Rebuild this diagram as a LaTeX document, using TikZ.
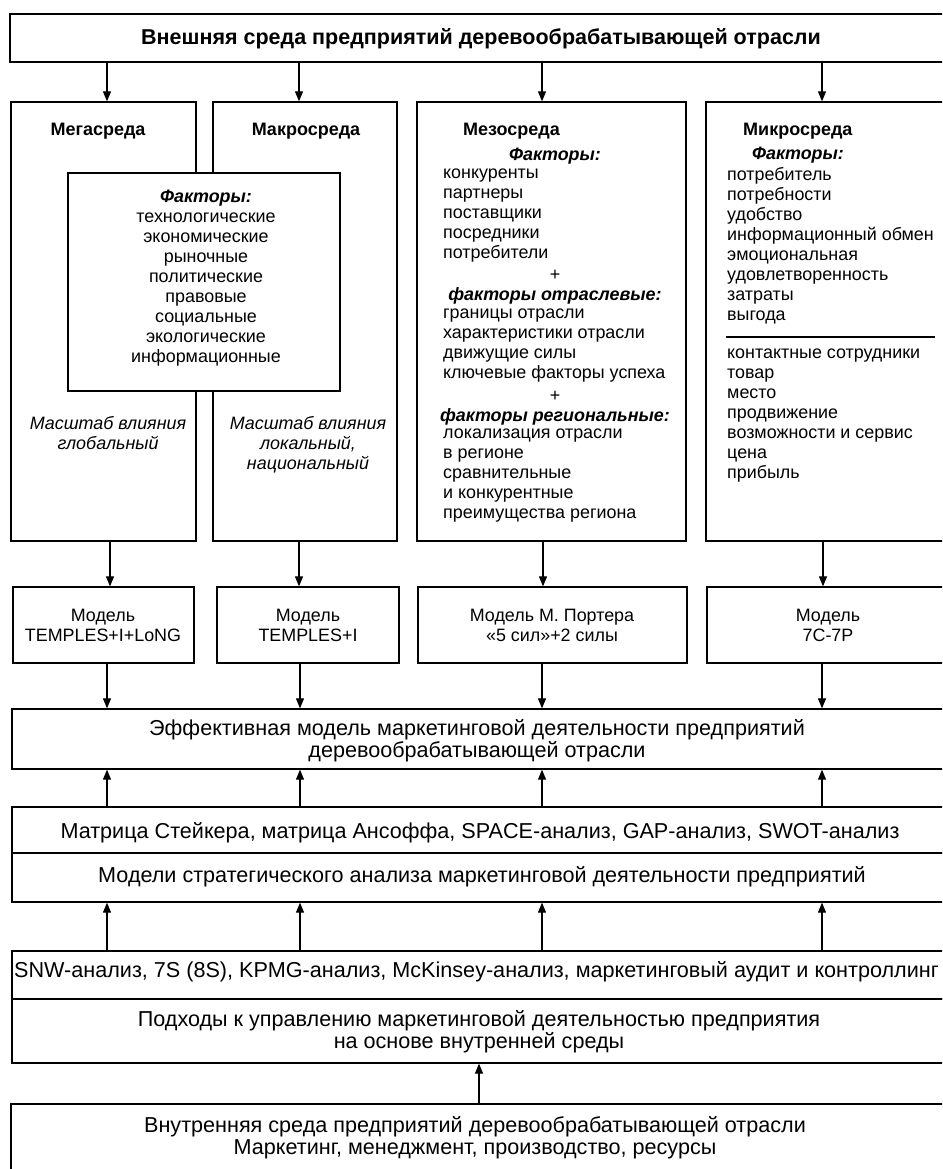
\documentclass[tikz,border=0pt]{standalone}
\usepackage{fontspec}
\setmainfont{Liberation Sans}
\usetikzlibrary{arrows.meta}
\newcommand\colf{\fontsize{17.9}{20}\selectfont}
\newcommand\botf{\fontsize{21.6}{22}\selectfont}
\newcommand\headf{\fontsize{18}{20}\selectfont\bfseries}
\newcommand\titf{\fontsize{21.5}{22}\selectfont\bfseries}
\newcommand\fhead[1]{\textbf{\textit{#1}}}
\begin{document}
\begin{tikzpicture}[x=1pt,y=-1pt,
  box/.style={draw, line width=1.3pt, inner sep=0pt, fill=white, rectangle},
  arr/.style={line width=1.1pt, -{Triangle[length=10pt,width=8pt]}},
  ct/.style={inner sep=0pt, align=center, execute at begin node=\strut, execute at end node=\strut},
  lt/.style={inner sep=0pt, align=left, anchor=west, execute at begin node=\strut, execute at end node=\strut},
]
\useasboundingbox (0,0) rectangle (942,1169);
\fill[white] (0,0) rectangle (942,1169);
\clip (0,0) rectangle (942,1169);

% ---------- boxes ----------
\node[box, minimum width=942, minimum height=48] (title) at (481,38) {};
\node[box, minimum width=185, minimum height=439] (mega) at (103.5,321.5) {};
\node[box, minimum width=184, minimum height=439] (macro) at (305,321.5) {};
\node[box, minimum width=269, minimum height=439] (meso) at (551.5,321.5) {};
\node[box, minimum width=246, minimum height=439] (micro) at (829,321.5) {};
\node[box, minimum width=272, minimum height=218] (inner) at (204,282) {};

\node[box, minimum width=181, minimum height=76] (m1) at (103.5,625) {};
\node[box, minimum width=182, minimum height=76] (m2) at (308,625) {};
\node[box, minimum width=269, minimum height=76] (m3) at (552.5,625) {};
\node[box, minimum width=245, minimum height=76] (m4) at (829.5,625) {};

\node[box, minimum width=940, minimum height=60] (eff) at (482,739) {};
\node[box, minimum width=940, minimum height=46] (matr) at (482,830) {};
\node[box, minimum width=940, minimum height=49] (mods) at (482,877.5) {};
\node[box, minimum width=940, minimum height=48] (snw) at (482,975) {};
\node[box, minimum width=940, minimum height=64] (podh) at (482,1031) {};
\node[box, minimum width=941, minimum height=86] (inside) at (481.5,1147) {};

% ---------- texts ----------
\node[font=\titf, inner sep=0pt] (titleT) at (481,39) {Внешняя среда предприятий деревообрабатывающей отрасли};

\node[font=\headf, inner sep=0pt] (megaH) at (98,131) {Мегасреда};
\node[font=\headf, inner sep=0pt] (macroH) at (306,131) {Макросреда};
\node[font=\headf, inner sep=0pt, anchor=west] (mesoH) at (463,131) {Мезосреда};
\node[font=\headf, inner sep=0pt, anchor=west] (microH) at (743,131) {Микросреда};

\node[ct, font=\colf] (innerT) at (206,279) {\fhead{Факторы:}\\технологические\\экономические\\рыночные\\политические\\правовые\\социальные\\экологические\\информационные};

\node[ct, font=\colf\itshape] (megaS) at (108,436) {Масштаб влияния\\глобальный};
\node[ct, font=\colf\itshape] (macroS) at (308,446) {Масштаб влияния\\локальный,\\национальный};

\node[ct, font=\colf] (mesoF) at (555,157) {\fhead{Факторы:}};
\node[lt, font=\colf] (mesoA) at (443,217) {конкуренты\\партнеры\\поставщики\\посредники\\потребители};
\node[ct, font=\colf] (plus1) at (555,276) {+};
\node[ct, font=\colf] (mesoH2) at (555,296) {\fhead{факторы отраслевые:}};
\node[lt, font=\colf] (mesoB) at (443,347) {границы отрасли\\характеристики отрасли\\движущие силы\\ключевые факторы успеха};
\node[ct, font=\colf] (plus2) at (555,397) {+};
\node[ct, font=\colf] (mesoH3) at (555,417) {\fhead{факторы региональные:}};
\node[lt, font=\colf] (mesoC) at (443,477) {локализация отрасли\\в регионе\\сравнительные\\и конкурентные\\преимущества региона};

\node[ct, font=\colf] (microF) at (798,156) {\fhead{Факторы:}};
\node[lt, font=\colf] (microA) at (727,247) {потребитель\\потребности\\удобство\\информационный обмен\\эмоциональная\\удовлетворенность\\затраты\\выгода};
\coordinate (ruleL) at (726,337);
\coordinate (ruleR) at (935,337);
\draw[line width=1.1pt] (ruleL) -- (ruleR);
\node[lt, font=\colf] (microB) at (727,417) {контактные сотрудники\\товар\\место\\продвижение\\возможности и сервис\\цена\\прибыль};

\node[ct, font=\colf] (m1T) at (103,628) {Модель\\TEMPLES+I+LoNG};
\node[ct, font=\colf] (m2T) at (308,628) {Модель\\TEMPLES+I};
\node[ct, font=\colf] (m3T) at (552,628) {Модель М. Портера\\«5 сил»+2 силы};
\node[ct, font=\colf] (m4T) at (828,628) {Модель\\7C-7P};

\node[ct, font=\botf] (effT) at (477,742) {Эффективная модель маркетинговой деятельности предприятий\\деревообрабатывающей отрасли};
\node[ct, font=\botf] (matrT) at (480,834) {Матрица Стейкера, матрица Ансоффа, SPACE-анализ, GAP-анализ, SWOT-анализ};
\node[ct, font=\botf] (modsT) at (482,878) {Модели стратегического анализа маркетинговой деятельности предприятий};
\node[lt, font=\botf] (snwT) at (14,973) {SNW-анализ, 7S (8S), KPMG-анализ, McKinsey-анализ, маркетинговый аудит и контроллинг};
\node[ct, font=\botf] (podhT) at (479,1033) {Подходы к управлению маркетинговой деятельностью предприятия\\на основе внутренней среды};
\node[ct, font=\botf] (insideT) at (475,1139) {Внутренняя среда предприятий деревообрабатывающей отрасли\\Маркетинг, менеджмент, производство, ресурсы};

% ---------- connectors ----------
\coordinate (a1) at (107,0);
\coordinate (a2) at (299,0);
\coordinate (a3) at (542,0);
\coordinate (a4) at (822,0);
\coordinate (c1) at (110,0);
\coordinate (c2) at (299,0);
\coordinate (c3) at (543,0);
\coordinate (c4) at (823,0);
\coordinate (b1) at (107,0);
\coordinate (b2) at (300,0);
\coordinate (b3) at (542,0);
\coordinate (b4) at (822,0);
\coordinate (d0) at (479,0);

\draw[arr] (title.south -| a1) -- (mega.north -| a1);
\draw[arr] (title.south -| a2) -- (macro.north -| a2);
\draw[arr] (title.south -| a3) -- (meso.north -| a3);
\draw[arr] (title.south -| a4) -- (micro.north -| a4);

\draw[arr] (mega.south -| c1) -- (m1.north -| c1);
\draw[arr] (macro.south -| c2) -- (m2.north -| c2);
\draw[arr] (meso.south -| c3) -- (m3.north -| c3);
\draw[arr] (micro.south -| c4) -- (m4.north -| c4);

\draw[arr] (m1.south -| b1) -- (eff.north -| b1);
\draw[arr] (m2.south -| b2) -- (eff.north -| b2);
\draw[arr] (m3.south -| b3) -- (eff.north -| b3);
\draw[arr] (m4.south -| b4) -- (eff.north -| b4);

\draw[arr] (matr.north -| b1) -- (eff.south -| b1);
\draw[arr] (matr.north -| b2) -- (eff.south -| b2);
\draw[arr] (matr.north -| b3) -- (eff.south -| b3);
\draw[arr] (matr.north -| b4) -- (eff.south -| b4);

\draw[arr] (snw.north -| b1) -- (mods.south -| b1);
\draw[arr] (snw.north -| b2) -- (mods.south -| b2);
\draw[arr] (snw.north -| b3) -- (mods.south -| b3);
\draw[arr] (snw.north -| b4) -- (mods.south -| b4);

\draw[arr] (inside.north -| d0) -- (podh.south -| d0);
\end{tikzpicture}
\end{document}
